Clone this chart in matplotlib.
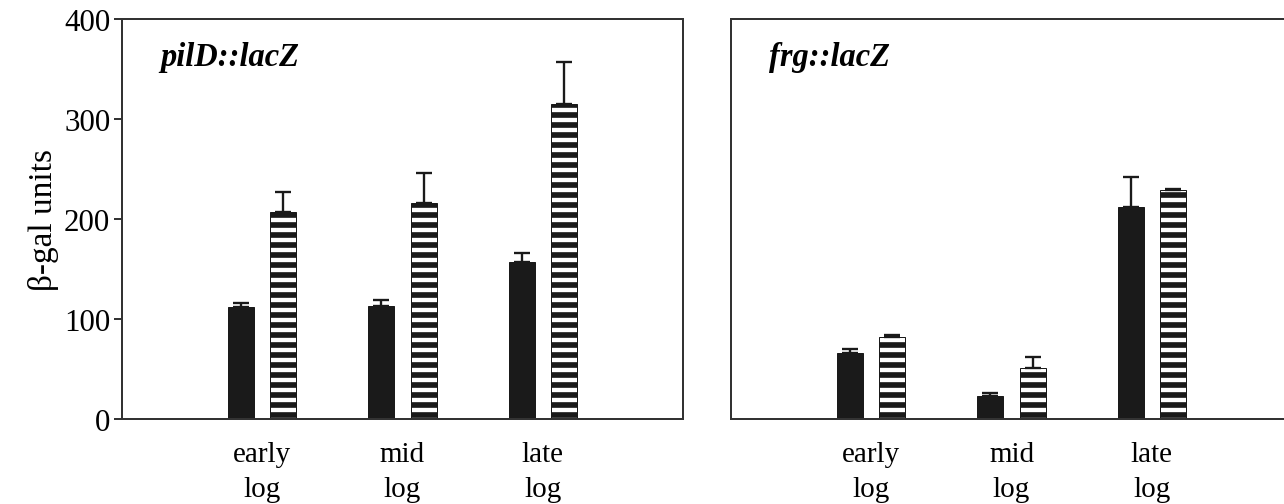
import numpy as np
import matplotlib
matplotlib.use("Agg")
import matplotlib.pyplot as plt

# values (beta-gal units)
phases = ["early\nlog", "mid\nlog", "late\nlog"]

pild_black = [112, 113, 157]
pild_black_err = [4, 6, 9]
pild_striped = [207, 216, 315]
pild_striped_err = [20, 30, 42]

frg_black = [66, 23, 212]
frg_black_err = [4, 3, 30]
frg_striped = [82, 51, 229]
frg_striped_err = [2, 11, 1]

plt.rcParams['font.family'] = ['Liberation Serif', 'DejaVu Serif']
plt.rcParams['hatch.linewidth'] = 3.4

DPI = 120
fig = plt.figure(figsize=(1284 / DPI, 505 / DPI), dpi=DPI)

ax1 = fig.add_axes([122 / 1284, 85 / 505, 561 / 1284, 400 / 505])
ax2 = fig.add_axes([731 / 1284, 85 / 505, 561 / 1284, 400 / 505])

x = np.arange(1, len(phases) + 1)
off = 0.15
w = 0.185
dark = '#1a1a1a'


def panel(ax, black, black_err, striped, striped_err, label):
    ax.bar(x - off, black, w, color=dark, edgecolor=dark, linewidth=0.6, zorder=2)
    ax.bar(x + off, striped, w, color='white', edgecolor=dark, hatch='--',
           linewidth=0.6, zorder=2)
    ax.errorbar(x - off, black, yerr=[np.zeros(3), black_err], fmt='none',
                ecolor=dark, elinewidth=1.4, capsize=5, capthick=1.4, zorder=3)
    ax.errorbar(x + off, striped, yerr=[np.zeros(3), striped_err], fmt='none',
                ecolor=dark, elinewidth=1.4, capsize=5, capthick=1.4, zorder=3)
    ax.set_xlim(0, 4)
    ax.set_ylim(0, 400)
    ax.set_xticks(x)
    ax.set_xticklabels(phases, fontsize=17.5, linespacing=1.45)
    ax.tick_params(axis='x', length=0, pad=13)
    for s in ax.spines.values():
        s.set_linewidth(1.2)
        s.set_color('#333333')
    ax.text(0.068, 0.905, label, transform=ax.transAxes, fontsize=19.5,
            fontweight='bold', fontstyle='italic', va='center', ha='left')


panel(ax1, pild_black, pild_black_err, pild_striped, pild_striped_err, "pilD::lacZ")
panel(ax2, frg_black, frg_black_err, frg_striped, frg_striped_err, "frg::lacZ")

ax1.set_yticks([0, 100, 200, 300, 400])
ax1.tick_params(axis='y', length=5, width=1.2, labelsize=18.5, pad=2, color='#333333')
ax1.set_ylabel("β-gal units", fontsize=20, labelpad=3)

ax2.set_yticks([])

fig.savefig("out.png", dpi=DPI)
